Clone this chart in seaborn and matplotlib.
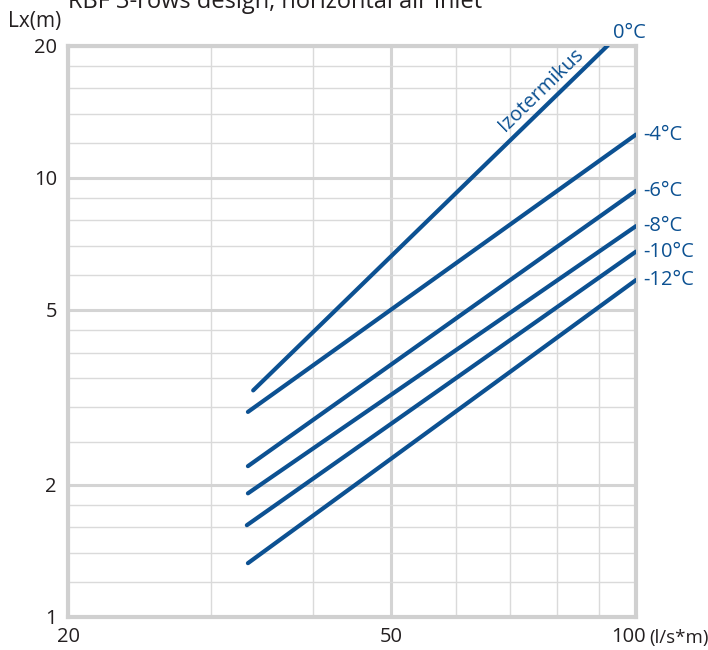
import numpy as np
import pandas as pd
import matplotlib
matplotlib.use("Agg")
import matplotlib.pyplot as plt
import seaborn as sns
from matplotlib.ticker import FixedLocator, NullFormatter
from matplotlib.transforms import ScaledTranslation

# ---- data ----
temps = ['0°C', '-4°C', '-6°C', '-8°C', '-10°C', '-12°C']
x_start = [33.8, 33.3, 33.3, 33.3, 33.2, 33.3]
x_end = [92.3, 100, 100, 100, 100, 100]
y_start = [3.28, 2.93, 2.205, 1.912, 1.618, 1.326]
y_end = [20, 12.54, 9.34, 7.76, 6.79, 5.85]

x_major = [20, 50, 100]
x_major_labels = ['20', '50', '100']
x_minor = [30, 40, 60, 70, 80, 90]
y_major = [1, 2, 5, 10, 20]
y_major_labels = ['1', '2', '5', '10', '20']
y_minor = [1.2, 1.4, 1.6, 1.8, 2.5, 3, 3.5, 4, 4.5, 6, 7, 8, 9, 12, 14, 16, 18]

title = 'RBF 3-rows design, horizontal air inlet'
xunit = '(l/s*m)'
ylabel = 'Lx(m)'
iso_label = 'Izotermikus'

rows = []
for t, xs, xe, ys, ye in zip(temps, x_start, x_end, y_start, y_end):
    rows.append({'temp': t, 'q': xs, 'L': ys})
    rows.append({'temp': t, 'q': xe, 'L': ye})
df = pd.DataFrame(rows)

sns.set_theme(style='white')
plt.rcParams['font.family'] = ['Open Sans', 'DejaVu Sans']

LINE = '#0c5192'
TXT = '#231f20'
GRID = '#d4d4d4'

fig = plt.figure(figsize=(7.08, 6.5), dpi=100)
ax = fig.add_axes([68/708, 33/650, (636-68)/708, (617-45.5)/650])

sns.lineplot(data=df, x='q', y='L', hue='temp', palette=[LINE]*len(temps),
             legend=False, linewidth=3.0, ax=ax, estimator=None, sort=False,
             solid_capstyle='round')

ax.set_xscale('log')
ax.set_yscale('log')
ax.set_xlim(20, 100)
ax.set_ylim(1, 20)

ax.xaxis.set_major_locator(FixedLocator(x_major))
ax.xaxis.set_minor_locator(FixedLocator(x_minor))
ax.yaxis.set_major_locator(FixedLocator(y_major))
ax.yaxis.set_minor_locator(FixedLocator(y_minor))
ax.set_xticklabels(x_major_labels)
ax.set_yticklabels(y_major_labels)
ax.xaxis.set_minor_formatter(NullFormatter())
ax.yaxis.set_minor_formatter(NullFormatter())
ax.tick_params(which='both', length=0)
ax.tick_params(axis='x', which='major', pad=7, labelsize=14.5, labelcolor=TXT)
ax.tick_params(axis='y', which='major', pad=8, labelsize=14.5, labelcolor=TXT)

# shift the "100" label slightly left, as in the original
for lbl in ax.get_xticklabels():
    if lbl.get_text() == '100':
        lbl.set_transform(lbl.get_transform() + ScaledTranslation(-8/100, 0, fig.dpi_scale_trans))

ax.grid(which='major', color=GRID, linewidth=2.2, zorder=0)
ax.grid(which='minor', color='#dadada', linewidth=1.0, zorder=0)
ax.set_axisbelow(True)
for s in ax.spines.values():
    s.set_visible(True)
    s.set_color('#d0d0d0')
    s.set_linewidth(3.0)
    s.set_zorder(1)

ax.set_xlabel('')
ax.set_ylabel('')

# end labels
for i, t in enumerate(temps):
    off = (4, 9) if i == 0 else (5, 0)
    ax.annotate(t, (x_end[i], y_end[i]), xytext=off, textcoords='offset points',
                ha='left', va='center', color=LINE, fontsize=14.5, annotation_clip=False)

# isothermal label along the 0°C line
fig.canvas.draw()
p0 = ax.transData.transform((x_start[0], y_start[0]))
p1 = ax.transData.transform((x_end[0], y_end[0]))
ang = np.degrees(np.arctan2(p1[1]-p0[1], p1[0]-p0[0]))
fr = 0.84
lx = 10**(np.log10(x_start[0]) + fr*(np.log10(x_end[0])-np.log10(x_start[0])))
ly = 10**(np.log10(y_start[0]) + fr*(np.log10(y_end[0])-np.log10(y_start[0])))
ax.annotate(iso_label, (lx, ly), xytext=(-2.5, 2.5), textcoords='offset points',
            rotation=ang, rotation_mode='anchor', ha='center', va='bottom',
            color=LINE, fontsize=14.5)

fig.text(68/708, 1 - 8/650, title, ha='left', va='baseline', fontsize=17, color=TXT)
fig.text(8/708, 1 - 21/650, ylabel, ha='left', va='center', fontsize=15, color=TXT)
fig.text(649/708, 1 - 638/650, xunit, ha='left', va='center', fontsize=13.5, color=TXT)

fig.savefig('out.png', dpi=100)
